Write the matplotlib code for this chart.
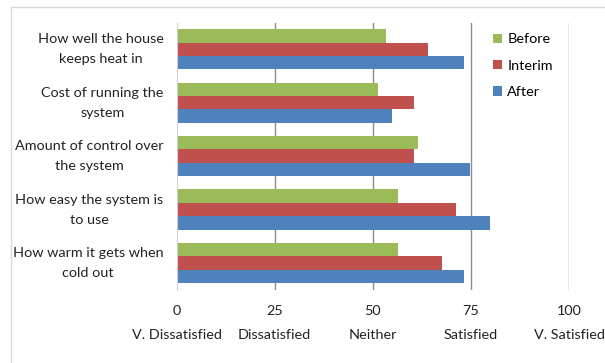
import numpy as np
import matplotlib
matplotlib.use('Agg')
from matplotlib import pyplot as plt
from matplotlib.lines import Line2D
from matplotlib.transforms import blended_transform_factory, offset_copy

plt.rcParams['font.family'] = ['Lato', 'DejaVu Sans']

# data
questions = ['How well the house\nkeeps heat in',
             'Cost of running the\nsystem',
             'Amount of control over\nthe system',
             'How easy the system is\nto use',
             'How warm it gets when\ncold out']
before = [53.3, 51.4, 61.5, 56.5, 56.5]
interim = [64.2, 60.6, 60.5, 71.2, 67.6]
after = [73.2, 54.9, 74.8, 79.8, 73.2]
series_names = ['Before', 'Interim', 'After']
series_colors = ['#9BBB59', '#C0504D', '#4F81BD']
tick_vals = [0, 25, 50, 75, 100]
tick_words = ['V. Dissatisfied', 'Dissatisfied', 'Neither', 'Satisfied', 'V. Satisfied']

fig = plt.figure(figsize=(6.05, 3.63), dpi=100)
ax = fig.add_axes([176.5 / 605, 1 - 289.6 / 363, (569 - 176.5) / 605, (289.6 - 22.6) / 363])

y = np.arange(len(questions))
h = 0.25
for i, (vals, name, col) in enumerate(zip([before, interim, after], series_names, series_colors)):
    ax.barh(y + (i - 1) * h, vals, height=h, color=col, label=name, zorder=3)

ax.set_xlim(0, 100)
ax.set_ylim(len(questions) - 0.5, -0.5)
ax.set_yticks(y)
ax.set_yticklabels([])
# category labels drawn by hand so the two lines are centred
trans = offset_copy(blended_transform_factory(ax.transAxes, ax.transData), fig=fig, x=-13, units='dots')
for yy, q in zip(y, questions):
    ax.text(0, yy, q, transform=trans, ha='right', va='center', multialignment='center',
            fontsize=10.4, linespacing=1.8, color='#222222')

ax.set_xticks(tick_vals)
ax.set_xticklabels([f'{v}\n{w}' for v, w in zip(tick_vals, tick_words)], fontsize=10.4,
                   linespacing=2.25)
ax.tick_params(axis='both', length=0, colors='#222222')
ax.tick_params(axis='x', pad=11)

for v in tick_vals[1:]:
    ax.axvline(v, color='#8c8c8c', lw=1.0, zorder=1)
for s in ['top', 'right', 'bottom']:
    ax.spines[s].set_visible(False)
ax.spines['left'].set_color('#d0d0d0')
ax.spines['left'].set_zorder(4)

leg = ax.legend(loc='upper left', bbox_to_anchor=(0.773, 1.008), frameon=False, fontsize=10.4,
                handlelength=0.6, handleheight=0.6, handletextpad=0.4, labelspacing=0.99)

# chart border (light gray, runs off the right and bottom)
fig.add_artist(Line2D([11 / 605, 11 / 605], [0, 1 - 6.5 / 363], color='#d9d9d9', lw=1))
fig.add_artist(Line2D([11 / 605, 1], [1 - 6.5 / 363, 1 - 6.5 / 363], color='#d9d9d9', lw=1))

fig.savefig('out.png', dpi=100)
